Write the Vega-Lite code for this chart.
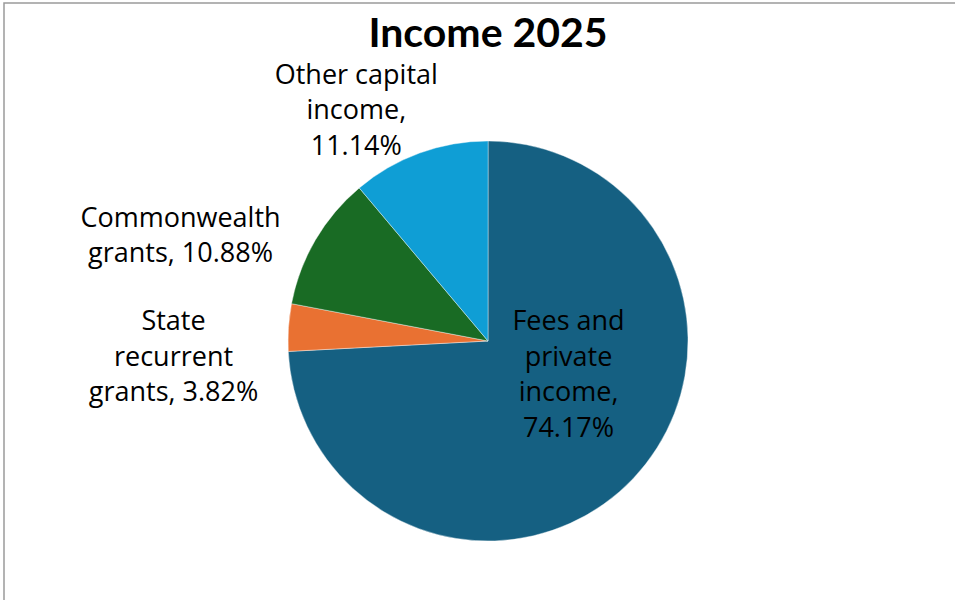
{
  "$schema": "https://vega.github.io/schema/vega-lite/v6.json",
  "width": 968,
  "height": 676,
  "padding": {"left": 3, "top": 2, "right": 0, "bottom": 0},
  "background": "white",
  "title": {
    "text": "Income 2025",
    "orient": "top",
    "anchor": "middle",
    "frame": "group",
    "offset": -86,
    "baseline": "alphabetic",
    "font": "Lato",
    "fontSize": 41,
    "fontWeight": "bold",
    "color": "#000000"
  },
  "config": {
    "view": {"stroke": null},
    "text": {"font": "Open Sans", "fontSize": 27, "color": "#000000"}
  },
  "data": {
    "values": [
      {"category": "Fees and private income", "order": 1, "value": 74.17, "label": "Fees and\nprivate\nincome,\n74.17%"},
      {"category": "State recurrent grants", "order": 2, "value": 3.82, "label": "State\nrecurrent\ngrants, 3.82%"},
      {"category": "Commonwealth grants", "order": 3, "value": 10.88, "label": "Commonwealth\ngrants, 10.88%"},
      {"category": "Other capital income", "order": 4, "value": 11.14, "label": "Other capital\nincome,\n11.14%"}
    ]
  },
  "transform": [
    {"stack": "value", "groupby": [], "sort": [{"field": "order", "order": "ascending"}], "as": ["v0", "v1"]},
    {"calculate": "(datum.v0 + datum.v1) / 2", "as": "mid"}
  ],
  "layer": [
    {
      "mark": {"type": "arc", "outerRadius": 200, "stroke": "#ffffff", "strokeWidth": 0.4},
      "encoding": {
        "theta": {"field": "v0", "type": "quantitative", "scale": {"domain": [0, 100], "range": [0, 6.283185307179586]}},
        "theta2": {"field": "v1"},
        "color": {
          "field": "category",
          "type": "nominal",
          "scale": {
            "domain": ["Fees and private income", "State recurrent grants", "Commonwealth grants", "Other capital income"],
            "range": ["#156082", "#E97132", "#196B24", "#0F9ED5"]
          },
          "legend": null
        }
      }
    },
    {
      "transform": [{"filter": "datum.order == 1"}],
      "mark": {"type": "text", "radius": 60, "dx": 37, "dy": -60, "lineBreak": "\n", "lineHeight": 35.5, "align": "center", "baseline": "middle"},
      "encoding": {
        "theta": {"field": "mid", "type": "quantitative"},
        "text": {"field": "label"}
      }
    },
    {
      "transform": [{"filter": "datum.order == 2"}],
      "mark": {"type": "text", "radius": 230, "dx": -85, "dy": -3, "lineBreak": "\n", "lineHeight": 35.5, "align": "center", "baseline": "middle"},
      "encoding": {
        "theta": {"field": "mid", "type": "quantitative"},
        "text": {"field": "label"}
      }
    },
    {
      "transform": [{"filter": "datum.order == 3"}],
      "mark": {"type": "text", "radius": 230, "dx": -109, "dy": -6, "lineBreak": "\n", "lineHeight": 35.5, "align": "center", "baseline": "middle"},
      "encoding": {
        "theta": {"field": "mid", "type": "quantitative"},
        "text": {"field": "label"}
      }
    },
    {
      "transform": [{"filter": "datum.order == 4"}],
      "mark": {"type": "text", "radius": 230, "dx": -53, "dy": -49, "lineBreak": "\n", "lineHeight": 35.5, "align": "center", "baseline": "middle"},
      "encoding": {
        "theta": {"field": "mid", "type": "quantitative"},
        "text": {"field": "label"}
      }
    },
    {
      "data": {"values": [{"frame": "border"}]},
      "mark": {"type": "rect", "fill": null, "stroke": "#9a9a9a", "strokeWidth": 1.5},
      "encoding": {
        "x": {"value": 0},
        "x2": {"value": "width"},
        "y": {"value": 0},
        "y2": {"value": "height"}
      }
    }
  ]
}
